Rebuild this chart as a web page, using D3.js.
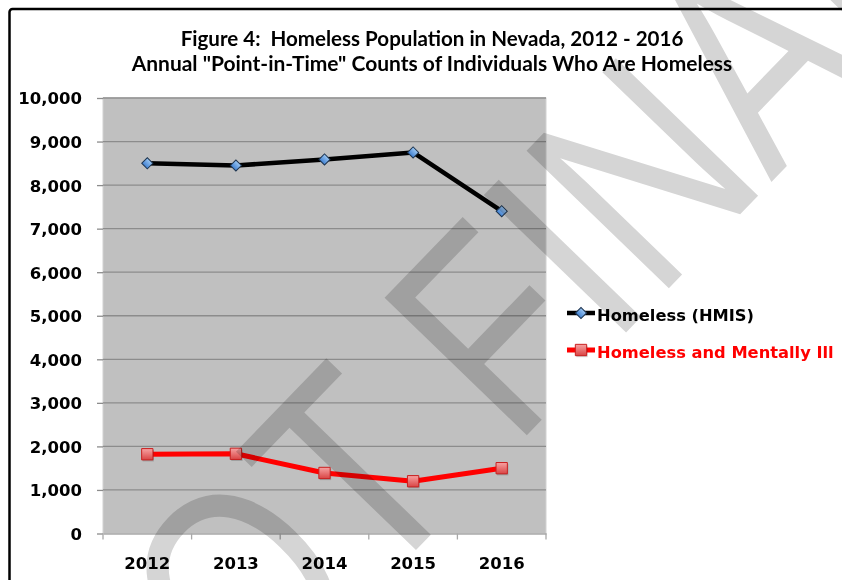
<!DOCTYPE html>
<html>
<head>
<meta charset="utf-8">
<script src="https://cdn.jsdelivr.net/npm/d3@7"></script>
<style>
  html, body { margin: 0; padding: 0; background: #ffffff; }
  svg { display: block; }
  .title { white-space: pre; }
</style>
</head>
<body>
<svg id="chart" width="842" height="580"></svg>
<script>
// ---- data ----
const years = ["2012", "2013", "2014", "2015", "2016"];
const homelessHMIS = [8500, 8450, 8590, 8750, 7400];
const homelessMentallyIll = [1820, 1830, 1390, 1200, 1500];
const yTickValues = [0, 1000, 2000, 3000, 4000, 5000, 6000, 7000, 8000, 9000, 10000];
const seriesNames = ["Homeless (HMIS)", "Homeless and Mentally Ill"];
const titleLines = [
  "Figure 4:  Homeless Population in Nevada, 2012 - 2016",
  "Annual \"Point-in-Time\" Counts of Individuals Who Are Homeless"
];
const watermarkText = "NOT FINAL";

// ---- layout ----
const W = 842, H = 580;
const plot = { left: 103, right: 546, top: 98, bottom: 533.5 };
const tickFont = "'DejaVu Sans', Verdana, sans-serif";

const svg = d3.select("#chart");

const defs = svg.append("defs");
const blueGrad = defs.append("linearGradient").attr("id", "blueFill")
  .attr("x1", 0).attr("y1", 0).attr("x2", 0).attr("y2", 1);
blueGrad.append("stop").attr("offset", "0%").attr("stop-color", "#9cc8f4");
blueGrad.append("stop").attr("offset", "100%").attr("stop-color", "#3f7fd0");
const redGrad = defs.append("linearGradient").attr("id", "redFill")
  .attr("x1", 0).attr("y1", 0).attr("x2", 0).attr("y2", 1);
redGrad.append("stop").attr("offset", "0%").attr("stop-color", "#f7a3a3");
redGrad.append("stop").attr("offset", "100%").attr("stop-color", "#d94444");

// outer frame of the figure
svg.append("rect")
  .attr("x", 9.5).attr("y", 9).attr("width", W + 10).attr("height", H + 10)
  .attr("rx", 3)
  .attr("fill", "none").attr("stroke", "#000").attr("stroke-width", 2.5);

// ---- scales ----
const x = d3.scaleBand().domain(years).range([plot.left, plot.right]);
const y = d3.scaleLinear().domain([0, 10000]).range([plot.bottom, plot.top]);

// plot background
svg.append("rect")
  .attr("x", plot.left).attr("y", plot.top)
  .attr("width", plot.right - plot.left).attr("height", plot.bottom - plot.top)
  .attr("fill", "#c0c0c0").attr("stroke", "#d2d2d2").attr("stroke-width", 1);

// horizontal gridlines
svg.append("g").selectAll("line").data(yTickValues.filter(v => v > 0)).join("line")
  .attr("x1", plot.left).attr("x2", plot.right)
  .attr("y1", d => y(d)).attr("y2", d => y(d))
  .attr("stroke", "#8c8c8c").attr("stroke-width", 1.3);

// y axis
const yAxis = svg.append("g")
  .attr("transform", `translate(${plot.left},0)`)
  .call(d3.axisLeft(y).tickValues(yTickValues).tickSize(6).tickPadding(15)
    .tickFormat(d3.format(",")));
yAxis.select(".domain").remove();
yAxis.selectAll(".tick line").attr("stroke", "#8c8c8c").attr("stroke-width", 1.3);
yAxis.selectAll(".tick text")
  .attr("font-family", tickFont).attr("font-weight", "bold")
  .attr("font-size", 16.5).attr("fill", "#000").attr("dy", "0.36em");

// x axis
const xAxis = svg.append("g")
  .attr("transform", `translate(0,${plot.bottom})`)
  .call(d3.axisBottom(x).tickSize(0).tickPadding(24));
xAxis.select(".domain").attr("stroke", "#a8a8a8").attr("stroke-width", 1.3);
xAxis.selectAll(".tick text")
  .attr("font-family", tickFont).attr("font-weight", "bold")
  .attr("font-size", 16.5).attr("fill", "#000");
// category separators below the axis
const bounds = years.map(d => x(d)).concat([x(years[years.length - 1]) + x.bandwidth()]);
xAxis.append("g").selectAll("line").data(bounds).join("line")
  .attr("x1", d => d).attr("x2", d => d).attr("y1", 0).attr("y2", 6)
  .attr("stroke", "#a8a8a8").attr("stroke-width", 1.3);

// ---- series ----
const line = d3.line().x((d, i) => x(years[i]) + x.bandwidth() / 2).y(d => y(d));

const series = [
  { name: seriesNames[0], values: homelessHMIS, color: "#000000", width: 4.5,
    marker: "diamond" },
  { name: seriesNames[1], values: homelessMentallyIll, color: "#ff0000", width: 5,
    marker: "square" }
];

const diamondPath = d3.symbol(d3.symbolSquare, 62)();
const squarePath = d3.symbol(d3.symbolSquare, 128)();

function drawMarker(g, type) {
  if (type === "diamond") {
    g.append("path").attr("d", diamondPath).attr("transform", "rotate(45)")
      .attr("fill", "url(#blueFill)").attr("stroke", "#1e3550").attr("stroke-width", 1);
  } else {
    g.append("path").attr("d", squarePath).attr("transform", "translate(1,1.5)")
      .attr("fill", "rgba(0,0,0,0.18)");
    g.append("path").attr("d", squarePath)
      .attr("fill", "url(#redFill)").attr("stroke", "#c82020").attr("stroke-width", 1);
  }
}

series.forEach(s => {
  svg.append("path").datum(s.values)
    .attr("d", line).attr("fill", "none")
    .attr("stroke", s.color).attr("stroke-width", s.width)
    .attr("stroke-linejoin", "round").attr("stroke-linecap", "round");
  svg.append("g").selectAll("g").data(s.values).join("g")
    .attr("transform", (d, i) => `translate(${x(years[i]) + x.bandwidth() / 2},${y(d)})`)
    .each(function () { drawMarker(d3.select(this), s.marker); });
});

// ---- legend ----
const legend = svg.append("g").attr("transform", "translate(567,0)");
const legendRows = [313, 350];
series.forEach((s, i) => {
  const row = legend.append("g").attr("transform", `translate(0,${legendRows[i]})`);
  row.append("line").attr("x1", 0).attr("x2", 28).attr("y1", 0).attr("y2", 0)
    .attr("stroke", s.color).attr("stroke-width", s.width);
  drawMarker(row.append("g").attr("transform", "translate(14,0)"), s.marker);
  row.append("text").attr("x", 30).attr("y", 8)
    .attr("font-family", tickFont).attr("font-weight", "bold").attr("font-size", 16.3)
    .attr("fill", s.color).text(s.name);
});

// ---- title ----
const titleBaselines = [45.5, 71];
const titleWidths = [503, 601];
titleLines.forEach((t, i) => {
  const el = svg.append("text").attr("class", "title")
    .attr("x", 432).attr("y", titleBaselines[i]).attr("text-anchor", "middle")
    .attr("font-family", "Lato, 'Open Sans', sans-serif").attr("font-weight", "bold")
    .attr("font-size", 20).attr("fill", "#000").text(t);
  const len = el.node().getComputedTextLength();
  el.attr("font-size", 20 * titleWidths[i] / len);
});

// ---- watermark ----
svg.append("text")
  .attr("transform", "translate(135,841) rotate(-46) scale(1,1.25)")
  .attr("font-family", "'Liberation Sans', Arial, sans-serif")
  .attr("font-size", 230)
  .attr("fill", "#d5d5d5")
  .style("mix-blend-mode", "multiply")
  .text(watermarkText);
</script>
</body>
</html>
